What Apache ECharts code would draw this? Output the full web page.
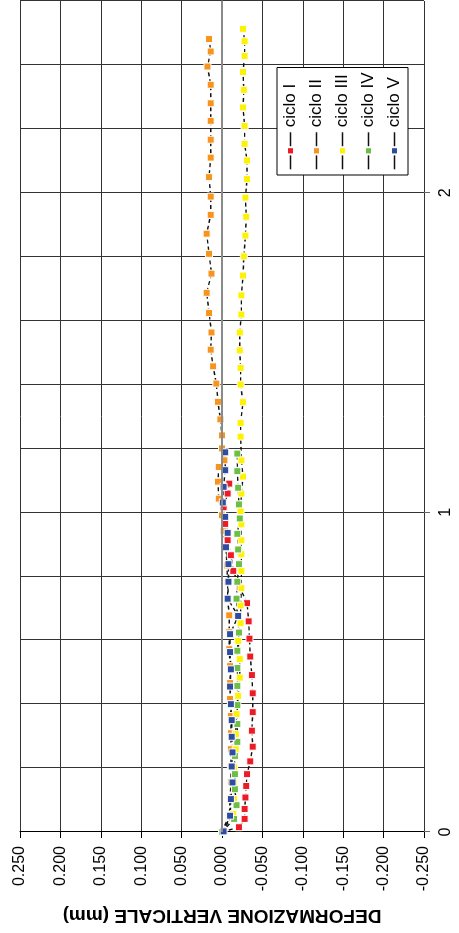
<!DOCTYPE html>
<html>
<head>
<meta charset="utf-8">
<script src="https://cdn.jsdelivr.net/npm/echarts@6/dist/echarts.min.js"></script>
<style>
html,body{margin:0;padding:0;background:#fff;}
#wrap{position:relative;width:459px;height:933px;overflow:hidden;background:#fff;}
#chart{position:absolute;left:0;top:0;width:933px;height:459px;transform-origin:0 0;transform:rotate(-90deg) translateX(-933px);}
</style>
</head>
<body>
<div id="wrap"><div id="chart"></div></div>
<script>
// ---- data ----
const seriesNames = ['ciclo I', 'ciclo II', 'ciclo III', 'ciclo IV', 'ciclo V'];
const xTickLabels = [0, 1, 2];

const cicloI_x = [0, 0.015, 0.041, 0.072, 0.108, 0.144, 0.181, 0.221, 0.267, 0.317, 0.375, 0.434, 0.491, 0.549, 0.605, 0.659, 0.716, 0.766, 0.817, 0.866, 0.913, 0.964, 1.016, 1.059, 1.090];
const cicloI_y = [0, -0.021, -0.028, -0.028, -0.029, -0.030, -0.031, -0.035, -0.038, -0.037, -0.038, -0.038, -0.037, -0.035, -0.034, -0.033, -0.031, -0.022, -0.014, -0.011, -0.007, -0.004, -0.002, -0.007, -0.009];

const cicloII_x = [0, 0.053, 0.103, 0.156, 0.206, 0.259, 0.309, 0.363, 0.416, 0.466, 0.519, 0.572, 0.625, 0.678, 0.728, 0.781, 0.834, 0.888, 0.941, 0.991, 1.043, 1.096, 1.142, 1.163, 1.200, 1.241, 1.291, 1.346, 1.403, 1.457, 1.509, 1.563, 1.624, 1.687, 1.747, 1.809, 1.872, 1.931, 1.988, 2.049, 2.110, 2.166, 2.225, 2.280, 2.338, 2.395, 2.442, 2.481];
const cicloII_y = [0, -0.009, -0.010, -0.011, -0.011, -0.011, -0.011, -0.011, -0.010, -0.010, -0.010, -0.009, -0.009, -0.009, -0.007, -0.007, -0.006, -0.005, -0.002, 0.000, 0.004, 0.005, 0.004, -0.003, 0.000, 0.000, 0.002, 0.005, 0.007, 0.011, 0.014, 0.013, 0.016, 0.019, 0.013, 0.016, 0.019, 0.014, 0.014, 0.016, 0.014, 0.014, 0.014, 0.014, 0.014, 0.018, 0.014, 0.016];

const cicloIII_x = [0, 0.056, 0.103, 0.153, 0.203, 0.259, 0.306, 0.369, 0.426, 0.483, 0.541, 0.598, 0.653, 0.709, 0.763, 0.817, 0.869, 0.913, 0.963, 1.004, 1.059, 1.112, 1.163, 1.237, 1.280, 1.345, 1.400, 1.452, 1.507, 1.563, 1.619, 1.679, 1.741, 1.801, 1.866, 1.925, 1.985, 2.043, 2.101, 2.153, 2.209, 2.267, 2.322, 2.378, 2.428, 2.474, 2.513];
const cicloIII_y = [0, -0.014, -0.015, -0.015, -0.015, -0.017, -0.017, -0.018, -0.020, -0.022, -0.022, -0.020, -0.023, -0.023, -0.024, -0.024, -0.024, -0.024, -0.024, -0.023, -0.024, -0.026, -0.024, -0.023, -0.023, -0.026, -0.023, -0.023, -0.022, -0.022, -0.024, -0.024, -0.026, -0.027, -0.029, -0.030, -0.029, -0.031, -0.031, -0.028, -0.028, -0.026, -0.027, -0.026, -0.028, -0.028, -0.026];

const cicloIV_x = [0, 0.041, 0.084, 0.134, 0.181, 0.238, 0.282, 0.338, 0.397, 0.457, 0.513, 0.567, 0.624, 0.678, 0.730, 0.783, 0.838, 0.884, 0.933, 0.981, 1.025, 1.077, 1.129, 1.184];
const cicloIV_y = [0, -0.015, -0.018, -0.016, -0.016, -0.016, -0.019, -0.019, -0.019, -0.019, -0.019, -0.019, -0.021, -0.019, -0.018, -0.019, -0.021, -0.020, -0.019, -0.022, -0.021, -0.020, -0.019, -0.019];

const cicloV_x = [0.002, 0.051, 0.103, 0.155, 0.205, 0.249, 0.298, 0.350, 0.400, 0.455, 0.509, 0.563, 0.619, 0.676, 0.730, 0.783, 0.838, 0.891, 0.936, 0.986, 1.031, 1.080, 1.132, 1.188];
const cicloV_y = [-0.002, -0.010, -0.011, -0.013, -0.012, -0.013, -0.012, -0.012, -0.011, -0.010, -0.011, -0.010, -0.010, -0.020, -0.007, -0.008, -0.008, -0.005, -0.007, -0.004, -0.001, -0.002, -0.004, -0.004];

const seriesColors = ['#ED1C24', '#F7941D', '#FFF200', '#6DBE45', '#2E4DA0'];
// ---------------

const xs = [cicloI_x, cicloII_x, cicloIII_x, cicloIV_x, cicloV_x];
const ys = [cicloI_y, cicloII_y, cicloIII_y, cicloIV_y, cicloV_y];
const FONT = 'Liberation Sans, Arial, sans-serif';

const chart = echarts.init(document.getElementById('chart'), null, {width: 933, height: 459, renderer: 'canvas'});

const dataSeries = seriesNames.map((name, i) => ({
  name: name,
  type: 'line',
  xAxisIndex: 0,
  data: xs[i].map((v, k) => [v, ys[i][k]]),
  symbol: 'rect',
  symbolSize: 7,
  z: 3,
  itemStyle: {color: seriesColors[i], borderColor: '#fff', borderWidth: 1},
  lineStyle: {color: '#111', width: 1.4, type: [4, 3]},
  emphasis: {disabled: true}
}));

const zeroLine = {
  name: 'zero',
  type: 'line',
  xAxisIndex: 0,
  data: [],
  z: 1,
  silent: true,
  markLine: {
    silent: true,
    symbol: 'none',
    label: {show: false},
    lineStyle: {color: '#8a8a8a', width: 2, type: 'solid'},
    data: [{yAxis: 0}]
  }
};

chart.setOption({
  animation: false,
  backgroundColor: '#fff',
  grid: {left: 100, right: 1, top: 20, bottom: 35},
  legend: {
    data: seriesNames,
    orient: 'vertical',
    left: 758,
    top: 277,
    padding: 5,
    itemWidth: 37,
    itemHeight: 9,
    itemGap: 9,
    borderColor: '#000',
    borderWidth: 1,
    backgroundColor: '#fff',
    textStyle: {fontSize: 17, color: '#000', fontFamily: FONT},
    lineStyle: {type: 'solid', color: '#111', width: 1.4}
  },
  xAxis: [{
    type: 'value',
    min: 0,
    max: 2.6,
    interval: 0.2,
    position: 'bottom',
    splitLine: {show: true, lineStyle: {color: '#333', width: 1}},
    axisLine: {show: true, lineStyle: {color: '#888', width: 1.5}},
    axisTick: {show: false},
    axisLabel: {show: false}
  }, {
    type: 'value',
    min: 0,
    max: 2.6,
    interval: 1,
    position: 'bottom',
    offset: 0,
    splitLine: {show: false},
    axisLine: {show: false},
    axisTick: {show: true, customValues: xTickLabels, length: 6, lineStyle: {color: '#666'}},
    axisLabel: {customValues: xTickLabels, fontSize: 16, color: '#000', margin: 14, fontFamily: FONT}
  }],
  yAxis: {
    type: 'value',
    min: -0.25,
    max: 0.25,
    interval: 0.05,
    name: 'DEFORMAZIONE VERTICALE (mm)',
    nameLocation: 'middle',
    nameRotate: 90,
    nameGap: 74,
    nameTextStyle: {fontSize: 19, fontWeight: 'bold', color: '#000', fontFamily: FONT},
    splitLine: {show: true, lineStyle: {color: '#333', width: 1}},
    axisLine: {show: true, lineStyle: {color: '#000', width: 1}},
    axisTick: {show: true, length: 6, lineStyle: {color: '#000'}},
    axisLabel: {
      fontSize: 16, color: '#000', margin: 14, fontFamily: FONT,
      formatter: v => (Math.abs(v) < 1e-9 ? 0 : v).toFixed(3)
    }
  },
  series: [zeroLine].concat(dataSeries)
});
</script>
</body>
</html>
